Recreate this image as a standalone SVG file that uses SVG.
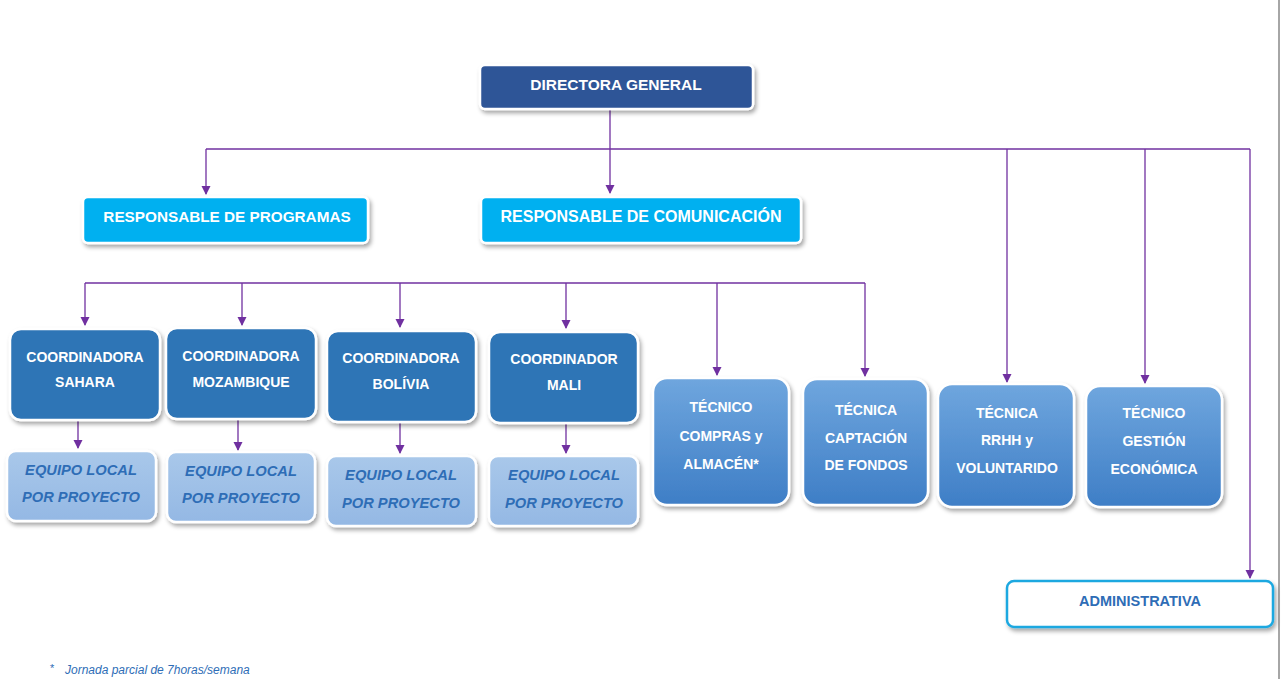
<svg xmlns="http://www.w3.org/2000/svg" width="1281" height="679" viewBox="0 0 1281 679">
<defs>
<filter id="sh" x="-10%" y="-10%" width="125%" height="135%">
<feDropShadow dx="2" dy="3" stdDeviation="2" flood-color="#000" flood-opacity="0.35"/>
</filter>
<linearGradient id="gTec" x1="0" y1="0" x2="0" y2="1">
<stop offset="0" stop-color="#6FA6DE"/>
<stop offset="1" stop-color="#3E7EC6"/>
</linearGradient>
<linearGradient id="gEq" x1="0" y1="0" x2="0" y2="1">
<stop offset="0" stop-color="#A9C8EA"/>
<stop offset="1" stop-color="#94B8E4"/>
</linearGradient>
<marker id="ar" markerWidth="10" markerHeight="10" refX="8" refY="5" orient="auto" markerUnits="userSpaceOnUse">
<path d="M0,0.5 L9,5 L0,9.5 Z" fill="#7030A0"/>
</marker>
<style>
.box{stroke:#fff;stroke-width:2.5;filter:url(#sh)}
.dir{fill:#2F5597}
.resp{fill:#00B0F0}
.coord{fill:#2E75B6}
.eq{fill:url(#gEq)}
.tec{fill:url(#gTec)}
.adm{fill:#fff;stroke:#1FA8E0;stroke-width:2.5;filter:url(#sh)}
.t{font-family:"Liberation Sans",Arial,sans-serif;font-weight:bold;fill:#fff;text-anchor:middle}
.ti{font-family:"Liberation Sans",Arial,sans-serif;font-weight:bold;font-style:italic;fill:#2E6DB6;text-anchor:middle;font-size:14.7px}
.c{fill:none;stroke:#7030A0;stroke-width:1.3}
</style>
</defs>
<rect width="1281" height="679" fill="#fff"/>
<line x1="1279" y1="0" x2="1279" y2="679" stroke="#A6A6A6" stroke-width="2"/>

<g id="connectors">
<line class="c" x1="610" y1="110" x2="610" y2="193" marker-end="url(#ar)"/>
<line class="c" x1="206" y1="149" x2="1250" y2="149"/>
<line class="c" x1="206" y1="149" x2="206" y2="194" marker-end="url(#ar)"/>
<line class="c" x1="1250" y1="149" x2="1250" y2="578" marker-end="url(#ar)"/>
<line class="c" x1="1007" y1="149" x2="1007" y2="382" marker-end="url(#ar)"/>
<line class="c" x1="1145" y1="149" x2="1145" y2="383" marker-end="url(#ar)"/>
<line class="c" x1="85" y1="283" x2="865" y2="283"/>
<line class="c" x1="85" y1="283" x2="85" y2="325" marker-end="url(#ar)"/>
<line class="c" x1="865" y1="283" x2="865" y2="376" marker-end="url(#ar)"/>
<line class="c" x1="242" y1="283" x2="242" y2="325" marker-end="url(#ar)"/>
<line class="c" x1="400" y1="283" x2="400" y2="327" marker-end="url(#ar)"/>
<line class="c" x1="566" y1="283" x2="566" y2="328" marker-end="url(#ar)"/>
<line class="c" x1="717" y1="283" x2="717" y2="375" marker-end="url(#ar)"/>
<line class="c" x1="78" y1="421" x2="78" y2="448" marker-end="url(#ar)"/>
<line class="c" x1="238" y1="420" x2="238" y2="450" marker-end="url(#ar)"/>
<line class="c" x1="400" y1="423" x2="400" y2="453" marker-end="url(#ar)"/>
<line class="c" x1="566" y1="424" x2="566" y2="453" marker-end="url(#ar)"/>
</g>

<g id="directora">
<rect class="box dir" x="480" y="65" width="273" height="44" rx="5"/>
<text class="t" x="616" y="90" font-size="15.5">DIRECTORA GENERAL</text>
</g>

<g id="resp-programas">
<rect class="box resp" x="83" y="197" width="285" height="46" rx="5"/>
<text class="t" x="227" y="222" font-size="15.3">RESPONSABLE DE PROGRAMAS</text>
</g>
<g id="resp-comunicacion">
<rect class="box resp" x="481" y="197" width="320" height="46" rx="5"/>
<text class="t" x="641" y="222" font-size="16">RESPONSABLE DE COMUNICACIÓN</text>
</g>

<g id="coord-sahara">
<rect class="box coord" x="10" y="329" width="150" height="91" rx="11"/>
<text class="t" x="85" y="362" font-size="14">COORDINADORA</text>
<text class="t" x="85" y="387" font-size="14">SAHARA</text>
</g>
<g id="coord-mozambique">
<rect class="box coord" x="166" y="328" width="150" height="91" rx="11"/>
<text class="t" x="241" y="361" font-size="14">COORDINADORA</text>
<text class="t" x="241" y="387" font-size="14">MOZAMBIQUE</text>
</g>
<g id="coord-bolivia">
<rect class="box coord" x="327" y="331" width="149" height="91" rx="11"/>
<text class="t" x="401" y="363" font-size="14">COORDINADORA</text>
<text class="t" x="401" y="389" font-size="14">BOLÍVIA</text>
</g>
<g id="coord-mali">
<rect class="box coord" x="489" y="332" width="149" height="91" rx="11"/>
<text class="t" x="564" y="364" font-size="14">COORDINADOR</text>
<text class="t" x="564" y="390" font-size="14">MALI</text>
</g>

<g id="equipo-sahara">
<rect class="box eq" x="7" y="451" width="149" height="70" rx="9"/>
<text class="ti" x="81" y="475">EQUIPO LOCAL</text>
<text class="ti" x="81" y="502">POR PROYECTO</text>
</g>
<g id="equipo-mozambique">
<rect class="box eq" x="167" y="452" width="148" height="70" rx="9"/>
<text class="ti" x="241" y="476">EQUIPO LOCAL</text>
<text class="ti" x="241" y="503">POR PROYECTO</text>
</g>
<g id="equipo-bolivia">
<rect class="box eq" x="327" y="456" width="149" height="70" rx="9"/>
<text class="ti" x="401" y="480">EQUIPO LOCAL</text>
<text class="ti" x="401" y="508">POR PROYECTO</text>
</g>
<g id="equipo-mali">
<rect class="box eq" x="489" y="456" width="149" height="70" rx="9"/>
<text class="ti" x="564" y="480">EQUIPO LOCAL</text>
<text class="ti" x="564" y="508">POR PROYECTO</text>
</g>

<g id="tec-compras">
<rect class="box tec" x="653" y="378" width="136" height="127" rx="14"/>
<text class="t" x="721" y="412" font-size="14">TÉCNICO</text>
<text class="t" x="721" y="441" font-size="14">COMPRAS y</text>
<text class="t" x="721" y="469" font-size="14">ALMACÉN*</text>
</g>
<g id="tec-captacion">
<rect class="box tec" x="803" y="379" width="125" height="126" rx="14"/>
<text class="t" x="866" y="415" font-size="14">TÉCNICA</text>
<text class="t" x="866" y="443" font-size="14">CAPTACIÓN</text>
<text class="t" x="866" y="470" font-size="14">DE FONDOS</text>
</g>
<g id="tec-rrhh">
<rect class="box tec" x="938" y="384" width="136" height="123" rx="14"/>
<text class="t" x="1007" y="418" font-size="14">TÉCNICA</text>
<text class="t" x="1007" y="445" font-size="14">RRHH y</text>
<text class="t" x="1007" y="473" font-size="14">VOLUNTARIDO</text>
</g>
<g id="tec-gestion">
<rect class="box tec" x="1086" y="386" width="136" height="121" rx="14"/>
<text class="t" x="1154" y="418" font-size="14">TÉCNICO</text>
<text class="t" x="1154" y="446" font-size="14">GESTIÓN</text>
<text class="t" x="1154" y="474" font-size="14">ECONÓMICA</text>
</g>

<g id="administrativa">
<rect class="adm" x="1007" y="581" width="266" height="46" rx="7"/>
<text class="t" x="1140" y="606" font-size="14.5" style="fill:#2E6DB6">ADMINISTRATIVA</text>
</g>

<g id="nota">
<text x="50" y="672" font-family="Liberation Sans, Arial, sans-serif" font-size="11" fill="#2E6DB6">*</text>
<text x="65" y="674" font-family="Liberation Sans, Arial, sans-serif" font-size="12" font-style="italic" fill="#2E6DB6">Jornada parcial de 7horas/semana</text>
</g>
</svg>
